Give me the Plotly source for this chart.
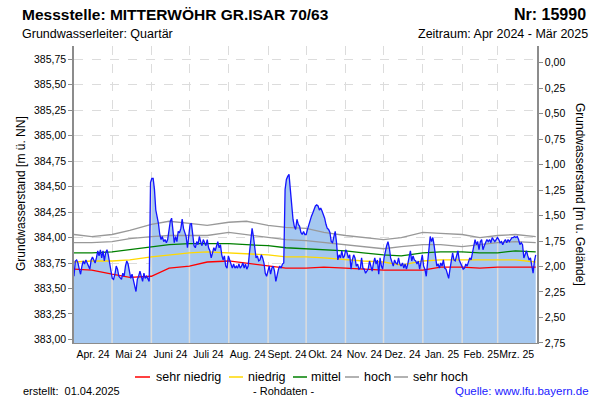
import numpy as np
import pandas as pd
import plotly.graph_objects as go

FONT = "Liberation Sans, Arial, sans-serif"
GROUND = 385.716  # Geländehöhe [m ü. NN] für die rechte Achse

# Grundwasserstand (Rohdaten), gleichmäßig über Apr 2024 - Mär 2025
level = [
    383.62, 383.77, 383.78, 383.75, 383.69, 383.64, 383.72, 383.77, 383.74, 383.78,
    383.75, 383.72, 383.69, 383.78, 383.81, 383.78, 383.75, 383.80, 383.87, 383.82,
    383.88, 383.80, 383.87, 383.77, 383.85, 383.88, 383.83, 383.75, 383.69, 383.60,
    383.59, 383.64, 383.72, 383.69, 383.62, 383.60, 383.59, 383.65, 383.62, 383.72,
    383.77, 383.74, 383.67, 383.60, 383.64, 383.59, 383.54, 383.47, 383.59, 383.62,
    383.67, 383.60, 383.57, 383.65, 383.60, 383.62, 383.59, 383.57, 384.54, 384.58,
    384.58, 384.47, 384.27, 384.21, 384.14, 384.03, 383.98, 384.01, 383.96, 383.98,
    383.95, 383.98, 384.09, 384.16,
    384.19, 384.05, 383.95, 384.01, 383.96, 384.06, 384.05, 384.09, 384.18, 384.09,
    384.05, 384.01, 383.90, 384.03, 384.13, 384.14, 384.01, 383.92, 383.90, 383.96,
    383.93, 384.01, 383.96, 383.92, 383.98, 383.95, 383.92, 383.98, 383.90, 383.87,
    383.80, 383.85, 383.90, 383.87, 383.93, 383.96, 383.90, 383.93, 383.83, 383.78,
    383.82, 383.72, 383.70, 383.82, 383.78, 383.74, 383.70, 383.74, 383.70, 383.72,
    383.70, 383.74, 383.70, 383.72, 383.75, 383.70, 383.74, 383.69, 383.72, 383.85,
    383.98, 384.09, 384.01, 383.88, 383.80, 383.82, 383.77, 383.78, 383.83, 383.80,
    383.75, 383.65, 383.62,
    383.67, 383.72, 383.64, 383.70, 383.72, 383.67, 383.57, 383.65, 383.69, 383.72,
    383.70, 383.74, 383.75, 384.47, 384.57, 384.60, 384.62, 384.47, 384.27, 384.18,
    384.11, 384.08, 384.18, 384.13, 384.11, 384.05, 384.03, 384.06, 384.03, 384.03,
    384.08, 384.13, 384.18, 384.21, 384.24, 384.27, 384.31, 384.32, 384.31, 384.27,
    384.29, 384.26, 384.23, 384.19, 384.13, 384.09, 384.08, 384.05, 383.96, 383.95,
    384.01, 384.06, 383.95, 383.78, 383.83, 383.80, 383.87, 383.80, 383.82, 383.88,
    383.85, 383.80, 383.83, 383.69, 383.78, 383.83, 383.80, 383.72, 383.74, 383.69,
    383.70, 383.80,
    383.70, 383.69, 383.65, 383.67, 383.69, 383.77, 383.72, 383.67, 383.75, 383.80,
    383.74, 383.78, 383.64, 383.80, 383.72, 383.69, 383.80, 383.87, 383.92, 383.96,
    383.90, 383.80, 383.75, 383.72, 383.78, 383.75, 383.74, 383.80, 383.74, 383.72,
    383.75, 383.70, 383.74, 383.69, 383.74, 383.80, 383.87, 383.77, 383.82, 383.78,
    383.77, 383.74, 383.77, 383.69, 383.78, 383.83, 383.72, 383.69, 383.62, 383.74,
    383.92, 384.01, 383.96, 384.00, 383.92, 383.82, 383.72, 383.74, 383.70, 383.75,
    383.72, 383.78, 383.70, 383.69, 383.64, 383.60, 383.69, 383.77, 383.85, 383.78,
    383.77, 383.82,
    383.87, 383.78, 383.75, 383.72, 383.69, 383.70, 383.74, 383.72, 383.77, 383.80,
    383.78, 383.85, 383.93, 383.98, 383.93, 383.96, 383.88, 383.96, 383.98, 383.88,
    383.92, 383.96, 383.98, 383.96, 383.98, 383.95, 384.00, 383.98, 383.96, 383.98,
    384.00, 383.98, 383.95, 383.96, 383.93, 383.96, 383.98, 383.95, 383.98, 383.96,
    383.98, 384.00, 384.00, 384.01, 384.00, 384.01, 383.98, 383.93, 383.95, 383.93,
    383.80, 383.83, 383.87, 383.82, 383.78, 383.80, 383.72, 383.65, 383.77, 383.83,
]

# Vergleichswerte, halbmonatlich
ref_dates = [
    "2024-04-01", "2024-04-15", "2024-05-01", "2024-05-15", "2024-06-01", "2024-06-15",
    "2024-07-01", "2024-07-15", "2024-08-01", "2024-08-15", "2024-09-01", "2024-09-15",
    "2024-10-01", "2024-10-15", "2024-11-01", "2024-11-15", "2024-12-01", "2024-12-15",
    "2025-01-01", "2025-01-15", "2025-02-01", "2025-02-15", "2025-03-01", "2025-03-15",
    "2025-03-31",
]
sehr_niedrig = [383.69, 383.68, 383.64, 383.61, 383.62, 383.70, 383.72, 383.76, 383.77,
                383.75, 383.72, 383.70, 383.70, 383.71, 383.70, 383.69, 383.68, 383.68,
                383.68, 383.71, 383.71, 383.70, 383.71, 383.71, 383.71]
niedrig = [383.76, 383.77, 383.77, 383.78, 383.81, 383.83, 383.85, 383.86, 383.85,
           383.84, 383.83, 383.81, 383.81, 383.80, 383.78, 383.77, 383.76, 383.73,
           383.77, 383.78, 383.78, 383.78, 383.78, 383.78, 383.76]
mittel = [383.85, 383.85, 383.86, 383.88, 383.91, 383.93, 383.94, 383.94, 383.94,
          383.93, 383.92, 383.90, 383.89, 383.88, 383.87, 383.85, 383.83, 383.82,
          383.85, 383.86, 383.86, 383.85, 383.85, 383.87, 383.86]
hoch = [383.95, 383.95, 383.96, 383.99, 384.01, 384.02, 384.02, 384.02, 384.05,
        384.03, 384.00, 383.98, 383.97, 383.95, 383.93, 383.91, 383.89, 383.91,
        383.93, 383.93, 383.91, 383.93, 383.95, 383.96, 383.95]
sehr_hoch = [384.03, 384.01, 384.03, 384.07, 384.13, 384.16, 384.14, 384.12, 384.15,
             384.16, 384.12, 384.10, 384.09, 384.05, 384.02, 384.00, 383.98, 384.00,
             384.05, 384.04, 384.03, 384.00, 384.02, 384.03, 384.01]

month_labels = ["Apr. 24", "Mai 24", "Juni 24", "Juli 24", "Aug. 24", "Sept. 24",
                "Okt. 24", "Nov. 24", "Dez. 24", "Jan. 25", "Feb. 25", "Mrz. 25"]

REF_SERIES = [
    ("sehr niedrig", sehr_niedrig, "#ff0000"),
    ("niedrig", niedrig, "#ffd800"),
    ("mittel", mittel, "#008000"),
    ("hoch", hoch, "#999999"),
    ("sehr hoch", sehr_hoch, "#999999"),
]

dates = pd.date_range("2024-04-01", "2025-03-31", periods=len(level))
month_starts = pd.date_range("2024-04-01", "2025-03-01", freq="MS")
month_mids = month_starts + pd.Timedelta(days=15)

# pixel helpers for layout (plot area 74..537 x 46..343)
L, R, T, B = 74, 537, 46, 343
Y_BOT, Y_TOP = 382.965, 385.88


def px(x):
    return (x - L) / (R - L)


def py(y):
    return (B - y) / (B - T)


fig = go.Figure()

# Füllfläche
fig.add_trace(go.Scatter(
    x=dates, y=level, mode="lines", fill="tozeroy",
    fillcolor="#a5c8f0", line=dict(width=0), hoverinfo="skip", showlegend=False,
))

# helle Monatslinien innerhalb der Fläche
t_num = dates.asi8.astype(float)
vx, vy = [], []
for m in month_starts[1:]:
    top = np.interp(float(m.value), t_num, level)
    vx += [m, m, None]
    vy += [Y_BOT, top, None]
fig.add_trace(go.Scatter(
    x=vx, y=vy, mode="lines", line=dict(color="#dcdcdc", width=1.5),
    hoverinfo="skip", showlegend=False,
))

for name, vals, color in REF_SERIES:
    fig.add_trace(go.Scatter(
        x=pd.to_datetime(ref_dates), y=vals, mode="lines", name=name,
        line=dict(color=color, width=1.3), showlegend=False,
    ))

fig.add_trace(go.Scatter(
    x=dates, y=level, mode="lines", name="Grundwasserstand",
    line=dict(color="#1414ff", width=1.3), showlegend=False,
))

# Flurabstand (rechte Achse)
fig.add_trace(go.Scatter(
    x=dates, y=[GROUND - v for v in level], yaxis="y2", mode="lines",
    line=dict(color="rgba(0,0,0,0)", width=0), hoverinfo="skip", showlegend=False,
))

axis_line = "#8c8c8c"
grid = "#dcdcdc"

fig.update_layout(
    width=600, height=400,
    margin=dict(l=L, r=600 - R, t=T, b=400 - B, autoexpand=False),
    paper_bgcolor="white", plot_bgcolor="white",
    separators=",.",
    font=dict(family=FONT, size=11, color="black"),
    xaxis=dict(
        type="date",
        range=["2024-04-01", "2025-04-01"],
        tickmode="array", tickvals=month_mids, ticktext=month_labels,
        tickangle=0,
        ticks="outside", ticklen=1, tickcolor="rgba(0,0,0,0)",
        tickfont=dict(size=10.5),
        showgrid=False, zeroline=False,
        showline=True, linecolor=axis_line, linewidth=1,
        minor=dict(dtick="M1", tick0="2024-04-01", showgrid=True,
                   gridcolor=grid, griddash="dash", gridwidth=1, ticks=""),
    ),
    yaxis=dict(
        range=[Y_BOT, Y_TOP], tick0=383.0, dtick=0.25, tickformat=".2f",
        ticks="outside", ticklen=4, tickcolor=axis_line,
        tickfont=dict(size=10.5),
        showline=True, linecolor=axis_line, linewidth=1.5,
        gridcolor=grid, griddash="dash", zeroline=False,
    ),
    yaxis2=dict(
        overlaying="y", side="right",
        range=[GROUND - Y_BOT, GROUND - Y_TOP], tick0=0, dtick=0.25, tickformat=".2f",
        ticks="outside", ticklen=4, tickcolor=axis_line,
        tickfont=dict(size=10.5),
        showline=True, linecolor=axis_line, linewidth=1.5,
        showgrid=False, zeroline=False,
    ),
)

ann = []
ann.append(dict(text="<b>Messstelle: MITTERWÖHR GR.ISAR 70/63</b>", x=px(20), y=py(14),
                xanchor="left", yanchor="middle", font=dict(size=15.5)))
ann.append(dict(text="<b>Nr: 15990</b>", x=px(588), y=py(14),
                xanchor="right", yanchor="middle", font=dict(size=16)))
ann.append(dict(text="Grundwasserleiter: Quartär", x=px(20), y=py(34),
                xanchor="left", yanchor="middle", font=dict(size=12.5)))
ann.append(dict(text="Zeitraum: Apr 2024 - Mär 2025", x=px(590), y=py(34),
                xanchor="right", yanchor="middle", font=dict(size=12.5)))
ann.append(dict(text="Grundwasserstand [m ü. NN]", x=px(21), y=py(194), textangle=-90,
                xanchor="center", yanchor="middle", font=dict(size=12)))
ann.append(dict(text="Grundwasserstand [m u. Gelände]", x=px(580), y=py(194), textangle=90,
                xanchor="center", yanchor="middle", font=dict(size=12)))
ann.append(dict(text="erstellt:  01.04.2025", x=px(21), y=py(391),
                xanchor="left", yanchor="middle", font=dict(size=11)))
ann.append(dict(text="- Rohdaten -", x=px(283), y=py(391),
                xanchor="center", yanchor="middle", font=dict(size=11)))
ann.append(dict(text="Quelle: www.lfu.bayern.de", x=px(591), y=py(391),
                xanchor="right", yanchor="middle", font=dict(size=11.5, color="#1a1aff")))

# Legende
legend_pos = [(135, 150, 154), (229, 243, 246), (293, 307, 309), (345, 359, 362), (394, 408, 411)]
shapes = []
for (x0, x1, xt), (name, vals, color) in zip(legend_pos, REF_SERIES):
    shapes.append(dict(type="line", xref="paper", yref="paper",
                       x0=px(x0), x1=px(x1), y0=py(377), y1=py(377),
                       line=dict(color=color, width=1.5)))
    ann.append(dict(text=name, x=px(xt), y=py(377), xanchor="left", yanchor="middle",
                    font=dict(size=12.5)))

for a in ann:
    a.update(xref="paper", yref="paper", showarrow=False)
fig.update_layout(annotations=ann, shapes=shapes)

fig.write_html(
    "out.html",
    config={"displayModeBar": False},
    post_script="document.body.style.margin='0';document.body.style.padding='0';",
)
